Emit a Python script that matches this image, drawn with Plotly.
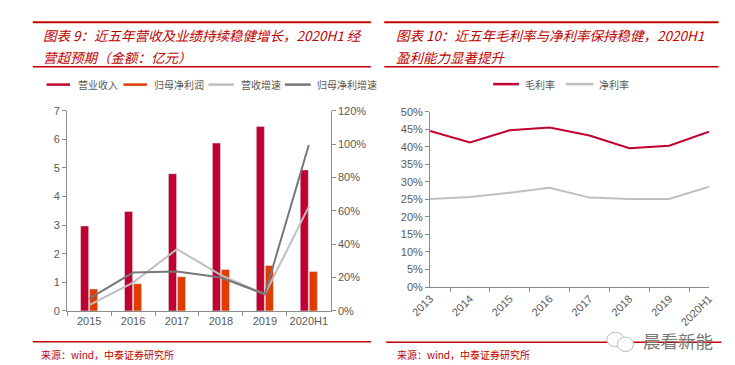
import plotly.graph_objects as go

# ---------------- data ----------------
years_left = ["2015", "2016", "2017", "2018", "2019", "2020H1"]
revenue = [2.97, 3.48, 4.80, 5.87, 6.45, 4.93]          # 营业收入 (亿元)
net_profit = [0.77, 0.95, 1.19, 1.45, 1.59, 1.38]       # 归母净利润 (亿元)
revenue_growth = [0.035, 0.17, 0.37, 0.215, 0.10, 0.625]  # 营收增速
profit_growth = [0.073, 0.23, 0.236, 0.20, 0.10, 0.995]   # 归母净利增速

years_right = ["2013", "2014", "2015", "2016", "2017", "2018", "2019", "2020H1"]
gross_margin = [0.445, 0.412, 0.447, 0.455, 0.432, 0.396, 0.403, 0.443]  # 毛利率
net_margin = [0.251, 0.257, 0.269, 0.283, 0.255, 0.251, 0.251, 0.286]    # 净利率

left_ticks_y = [0, 1, 2, 3, 4, 5, 6, 7]

# ---------------- styles ----------------
W, H = 735, 365
RED = "#C0002F"
ORANGE = "#E03C00"
LGRAY = "#BFBFBF"
DGRAY = "#777777"
TITLE_RED = "#C00000"
AXIS = "#8C8C8C"
TXT = "#595959"
FONT = "Liberation Sans, Arial, sans-serif"
CJK = "Noto Sans CJK SC"


def px(x):
    return x / W


def py(y):
    return 1 - y / H


fig = go.Figure()

# Left chart
fig.add_trace(go.Bar(x=years_left, y=revenue, name="营业收入", marker_color=RED,
                     xaxis="x", yaxis="y", showlegend=False))
fig.add_trace(go.Bar(x=years_left, y=net_profit, name="归母净利润", marker_color=ORANGE,
                     xaxis="x", yaxis="y", showlegend=False))
fig.add_trace(go.Scatter(x=years_left, y=revenue_growth, name="营收增速", mode="lines",
                         line=dict(color=LGRAY, width=2), xaxis="x", yaxis="y2",
                         showlegend=False))
fig.add_trace(go.Scatter(x=years_left, y=profit_growth, name="归母净利增速", mode="lines",
                         line=dict(color=DGRAY, width=2), xaxis="x", yaxis="y2",
                         showlegend=False))

# Right chart
fig.add_trace(go.Scatter(x=years_right, y=gross_margin, name="毛利率", mode="lines",
                         line=dict(color=RED, width=2), xaxis="x2", yaxis="y3",
                         showlegend=False))
fig.add_trace(go.Scatter(x=years_right, y=net_margin, name="净利率", mode="lines",
                         line=dict(color=LGRAY, width=2), xaxis="x2", yaxis="y3",
                         showlegend=False))

tickfont = dict(family=FONT, size=11, color=TXT)

fig.update_layout(
    width=W, height=H,
    margin=dict(l=0, r=0, t=0, b=0),
    paper_bgcolor="white", plot_bgcolor="white",
    barmode="group", bargap=0.59, bargroupgap=0.1,
    xaxis=dict(domain=[px(41), px(317)], anchor="y", type="category",
               showline=True, linecolor=AXIS, linewidth=1,
               ticks="outside", tickson="boundaries", ticklen=4, tickcolor=AXIS,
               tickfont=tickfont, showgrid=False, zeroline=False),
    yaxis=dict(domain=[py(307), py(100)], anchor="x", range=[0, 7],
               tickvals=left_ticks_y, showline=True, linecolor=AXIS, linewidth=1,
               ticks="outside", ticklen=4, tickcolor=AXIS, tickfont=tickfont,
               showgrid=False, zeroline=False),
    yaxis2=dict(overlaying="y", side="right", anchor="x", range=[0, 1.2], dtick=0.2,
                tickformat=".0%", showline=True, linecolor=AXIS, linewidth=1,
                ticks="outside", ticklen=4, tickcolor=AXIS, tickfont=tickfont,
                showgrid=False, zeroline=False),
    xaxis2=dict(domain=[px(421), px(713)], anchor="y3", type="category",
                showline=True, linecolor=AXIS, linewidth=1,
                ticks="outside", tickson="boundaries", ticklen=4, tickcolor=AXIS,
                tickfont=tickfont, tickangle=-45, showgrid=False, zeroline=False),
    yaxis3=dict(domain=[py(282.3), py(101)], anchor="x2", range=[0, 0.5], dtick=0.05,
                tickformat=".0%", showline=True, linecolor=AXIS, linewidth=1,
                ticks="outside", ticklen=4, tickcolor=AXIS, tickfont=tickfont,
                showgrid=False, zeroline=False),
)

shapes = []
annotations = []


def hline(x0, x1, y, color, width):
    shapes.append(dict(type="line", xref="paper", yref="paper",
                       x0=px(x0), x1=px(x1), y0=py(y), y1=py(y),
                       line=dict(color=color, width=width)))


def text(x, y, s, size, color, family=CJK, xanchor="left", italic=False):
    annotations.append(dict(xref="paper", yref="paper", x=px(x), y=py(y), text=s,
                            showarrow=False, xanchor=xanchor, yanchor="middle",
                            font=dict(family=family, size=size, color=color,
                                      style="italic" if italic else "normal")))


# Panel rules
hline(5, 359, 8.5, TITLE_RED, 2)
hline(5, 359, 54.5, TITLE_RED, 1.5)
hline(5, 359, 339, TITLE_RED, 1.5)
hline(373, 723, 8.5, TITLE_RED, 2)
hline(373, 723, 54.5, TITLE_RED, 1.5)
hline(375, 726, 339.5, TITLE_RED, 1.5)

# Titles
text(14, 21.5, "图表 9：近五年营收及业绩持续稳健增长，2020H1 经", 13.5, TITLE_RED, italic=True)
text(14, 44.5, "营超预期（金额：亿元）", 13.5, TITLE_RED, italic=True)
text(383, 21.5, "图表 10：近五年毛利率与净利率保持稳健，2020H1", 13.5, TITLE_RED, italic=True)
text(383, 44.5, "盈利能力显著提升", 13.5, TITLE_RED, italic=True)

# Legends (left)
leg_left = [(19.5, 44, RED, "营业收入", 50),
            (100, 124.5, ORANGE, "归母净利润", 130),
            (189, 215.5, LGRAY, "营收增速", 220.5),
            (269, 296, DGRAY, "归母净利增速", 301)]
for x0, x1, c, s, tx in leg_left:
    hline(x0, x1, 73, c, 2.5)
    text(tx, 73, s, 10, TXT)

# Legends (right)
leg_right = [(487, 514, RED, "毛利率", 518),
             (563, 592, LGRAY, "净利率", 596)]
for x0, x1, c, s, tx in leg_right:
    hline(x0, x1, 72.5, c, 2.5)
    text(tx, 72.5, s, 10, TXT)

# Footers
text(11, 352, "来源：wind，中泰证券研究所", 10, TITLE_RED)
text(384, 352, "来源：wind，中泰证券研究所", 10, TITLE_RED)

# Watermark
shapes.append(dict(type="circle", xref="paper", yref="paper",
                   x0=px(606), x1=px(624), y0=py(344), y1=py(329),
                   line=dict(color="#BBBBBB", width=1), fillcolor="white"))
shapes.append(dict(type="circle", xref="paper", yref="paper",
                   x0=px(617), x1=px(634), y0=py(349), y1=py(334),
                   line=dict(color="#BBBBBB", width=1), fillcolor="white"))
text(642, 338, "晨看新能", 17.5, "#777777")

fig.update_layout(shapes=shapes, annotations=annotations)

fig.write_html("out.html")
